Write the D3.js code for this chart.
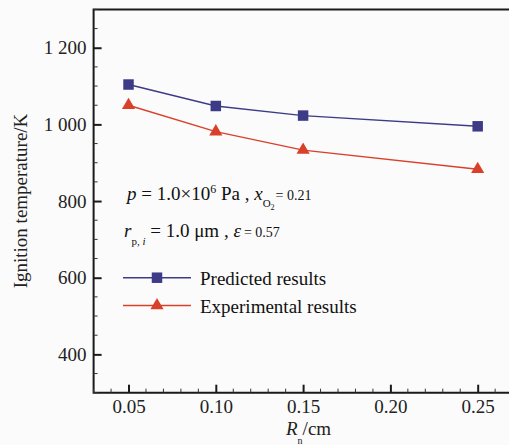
<!DOCTYPE html>
<html>
<head>
<meta charset="utf-8">
<script src="https://cdn.jsdelivr.net/npm/d3@7"></script>
<style>
  html, body { margin: 0; padding: 0; background: #fbfbfb; }
  svg text { font-family: "Liberation Serif", "Times New Roman", serif; }
</style>
</head>
<body>
<svg id="chart" width="509" height="445"></svg>
<script>
// données
const radius = [0.05, 0.10, 0.15, 0.25];            // R_n / cm
const predicted = [1104, 1048, 1023, 995];           // K
const experimental = [1050, 981, 933, 883];          // K
const xMajor = [0.05, 0.10, 0.15, 0.20, 0.25];
const yMajor = [400, 600, 800, 1000, 1200];
const legendLabels = ["Predicted results", "Experimental results"];

const svg = d3.select("#chart");
const W = 509, H = 445;

const x = d3.scaleLinear().domain([0.03, 0.27]).range([93.6, 512.6]);
const y = d3.scaleLinear().domain([300, 1300]).range([392.7, 9.4]);

const blue = "#3d3a88", red = "#d9402a";

svg.append("rect").attr("width", W).attr("height", H).attr("fill", "#fbfbfb");

// cadre
svg.append("path")
  .attr("d", `M${x(0.27)},${y(1300)}H${x(0.03)}V${y(300)}H${x(0.27)}`)
  .attr("fill", "none").attr("stroke", "#1a1a1a").attr("stroke-width", 2);

// axe Y
const yMinor = d3.range(300, 1301, 50).filter(v => !yMajor.includes(v));
const gy = svg.append("g").attr("transform", `translate(${x(0.03)},0)`);
gy.selectAll("line.minor").data(yMinor).enter().append("line")
  .attr("x1", 0).attr("x2", 4).attr("y1", d => y(d)).attr("y2", d => y(d))
  .attr("stroke", "#333").attr("stroke-width", 1);
gy.call(d3.axisLeft(y).tickValues(yMajor).tickSize(-8).tickPadding(7)
  .tickFormat(d => d3.format(",")(d).replace(",", " ")));
gy.attr("font-family", null).attr("font-size", 19);
gy.select(".domain").remove();
gy.selectAll(".tick line").attr("stroke", "#1a1a1a").attr("stroke-width", 2);
gy.selectAll(".tick text").attr("fill", "#222");

// axe X
const xMinor = d3.range(3, 28).map(v => v / 100).filter(v => !xMajor.some(m => Math.abs(m - v) < 1e-9));
const gx = svg.append("g").attr("transform", `translate(0,${y(300)})`);
gx.selectAll("line.minor").data(xMinor).enter().append("line")
  .attr("x1", d => x(d)).attr("x2", d => x(d)).attr("y1", 0).attr("y2", -4)
  .attr("stroke", "#333").attr("stroke-width", 1);
gx.call(d3.axisBottom(x).tickValues(xMajor).tickSize(-8).tickPadding(7)
  .tickFormat(d3.format(".2f")));
gx.attr("font-family", null).attr("font-size", 19);
gx.select(".domain").remove();
gx.selectAll(".tick line").attr("stroke", "#1a1a1a").attr("stroke-width", 2);
gx.selectAll(".tick text").attr("fill", "#222");

// titres des axes
svg.append("text")
  .attr("transform", `translate(27,201) rotate(-90)`)
  .attr("text-anchor", "middle").attr("font-size", 19).attr("fill", "#222")
  .text("Ignition temperature/K");

const xl = svg.append("text").attr("x", 286).attr("y", 435).attr("font-size", 19).attr("fill", "#222");
xl.append("tspan").attr("font-style", "italic").text("R");
xl.append("tspan").attr("font-size", 10).attr("dy", 9).text("n");
xl.append("tspan").attr("dy", -9).text("/cm");

// courbes
const line = d3.line().x((d, i) => x(radius[i])).y(d => y(d));
svg.append("path").datum(predicted).attr("d", line)
  .attr("fill", "none").attr("stroke", blue).attr("stroke-width", 1.4);
svg.append("path").datum(experimental).attr("d", line)
  .attr("fill", "none").attr("stroke", red).attr("stroke-width", 1.4);

const sq = d3.symbol().type(d3.symbolSquare).size(110);
const tri = d3.symbol().type(d3.symbolTriangle).size(75);
svg.selectAll("path.sq").data(predicted).enter().append("path")
  .attr("d", sq).attr("transform", (d, i) => `translate(${x(radius[i])},${y(d)})`)
  .attr("fill", blue);
svg.selectAll("path.tri").data(experimental).enter().append("path")
  .attr("d", tri).attr("transform", (d, i) => `translate(${x(radius[i])},${y(d)})`)
  .attr("fill", red);

// annotations
const t1 = svg.append("text").attr("x", 127).attr("y", 200).attr("font-size", 19).attr("fill", "#111");
t1.append("tspan").attr("font-style", "italic").text("p");
t1.append("tspan").text(" = 1.0×10");
t1.append("tspan").attr("font-size", 12).attr("dy", -7).text("6");
t1.append("tspan").attr("dy", 7).text(" Pa , ");
t1.append("tspan").attr("font-style", "italic").text("x");
t1.append("tspan").attr("font-size", 11).attr("dy", 7).text("O");
t1.append("tspan").attr("font-size", 8).attr("dy", 3).text("2");
t1.append("tspan").attr("font-size", 14).attr("dy", -10).attr("dx", 1).text("= 0.21");

const t2 = svg.append("text").attr("x", 124).attr("y", 237).attr("font-size", 19).attr("fill", "#111");
t2.append("tspan").attr("font-style", "italic").text("r");
t2.append("tspan").attr("font-size", 11).attr("dy", 8).text("p, ");
t2.append("tspan").attr("font-size", 11).attr("font-style", "italic").text("i");
t2.append("tspan").attr("dy", -8).text(" = 1.0 μm , ");
t2.append("tspan").attr("font-style", "italic").text("ε");
t2.append("tspan").attr("font-size", 14).attr("dx", 3).text("= 0.57");

// légende
const legend = svg.append("g");
const legendColors = [blue, red];
const legendSymbols = [sq, tri];
const legendY = [277.7, 305.5];
legendLabels.forEach((lab, i) => {
  legend.append("line").attr("x1", 123).attr("x2", 191).attr("y1", legendY[i]).attr("y2", legendY[i])
    .attr("stroke", legendColors[i]).attr("stroke-width", 1.4);
  legend.append("path").attr("d", legendSymbols[i]).attr("transform", `translate(157,${legendY[i]})`)
    .attr("fill", legendColors[i]);
  legend.append("text").attr("x", 200).attr("y", legendY[i] + 7).attr("font-size", 19).attr("fill", "#111").text(lab);
});
</script>
</body>
</html>
